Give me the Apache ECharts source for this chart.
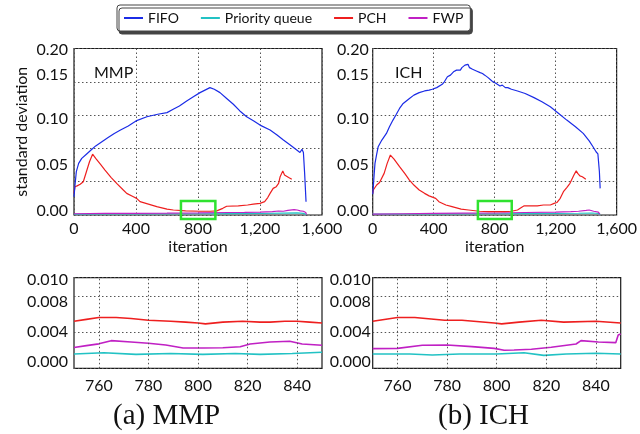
<!DOCTYPE html>
<html>
<head>
<meta charset="utf-8">
<script src="https://cdn.jsdelivr.net/npm/echarts@6/dist/echarts.min.js"></script>
<style>
html,body{margin:0;padding:0;background:#fff}
#chart{width:640px;height:434px}
</style>
</head>
<body>
<div id="chart"></div>
<script>
// ---- data: [iteration, standard deviation] ----
const methodNames = ['FIFO', 'Priority queue', 'PCH', 'FWP'];

const mmpFifo = [[0,0.022],[6,0.035],[15,0.052],[30,0.062],[50,0.068],[80,0.073],[110,0.078],[140,0.083],[180,0.088],[220,0.093],[260,0.098],[300,0.102],[350,0.107],[400,0.113],[470,0.118],[540,0.121],[600,0.123],[640,0.127],[680,0.131],[727,0.137],[770,0.142],[813,0.147],[845,0.150],[877,0.153],[905,0.151],[942,0.147],[985,0.140],[1028,0.133],[1070,0.125],[1114,0.118],[1160,0.113],[1200,0.108],[1265,0.102],[1310,0.096],[1351,0.090],[1395,0.084],[1437,0.078],[1458,0.075],[1471,0.079],[1480,0.075],[1488,0.050],[1497,0.016]];
const mmpQueue = [[0,0.0010],[200,0.0012],[400,0.0014],[800,0.0015],[1000,0.0016],[1200,0.0018],[1350,0.0022],[1440,0.0025],[1480,0.0020],[1500,0.0005]];
const mmpPch = [[0,0.026],[6,0.034],[20,0.035],[40,0.037],[60,0.040],[80,0.052],[100,0.064],[120,0.073],[140,0.068],[170,0.061],[200,0.054],[240,0.045],[280,0.037],[318,0.030],[340,0.026],[383,0.022],[404,0.020],[426,0.016],[480,0.013],[534,0.010],[600,0.007],[641,0.006],[720,0.005],[813,0.0045],[880,0.0045],[921,0.005],[960,0.008],[985,0.0105],[1060,0.011],[1120,0.012],[1157,0.013],[1200,0.014],[1230,0.016],[1250,0.021],[1265,0.026],[1285,0.032],[1305,0.034],[1320,0.038],[1330,0.046],[1347,0.053],[1358,0.048],[1370,0.047],[1385,0.045],[1405,0.043]];
const mmpFwp = [[0,0.0015],[200,0.0020],[400,0.0020],[600,0.0022],[800,0.0025],[1000,0.0030],[1100,0.0032],[1200,0.0035],[1280,0.0040],[1320,0.0048],[1350,0.0045],[1380,0.0055],[1420,0.0065],[1440,0.0060],[1460,0.0050],[1480,0.0045],[1495,0.0030],[1500,0.0005]];

const ichFifo = [[0,0.025],[4,0.034],[10,0.050],[15,0.062],[25,0.072],[36,0.082],[60,0.090],[90,0.098],[110,0.106],[133,0.114],[155,0.121],[176,0.128],[200,0.134],[241,0.140],[270,0.144],[305,0.147],[340,0.149],[370,0.150],[391,0.151],[420,0.153],[456,0.157],[470,0.160],[480,0.162],[490,0.166],[499,0.167],[510,0.168],[520,0.170],[530,0.172],[540,0.171],[550,0.174],[563,0.175],[575,0.174],[585,0.177],[595,0.176],[605,0.180],[612,0.182],[617,0.180],[625,0.181],[635,0.177],[645,0.178],[655,0.175],[665,0.176],[680,0.173],[692,0.174],[705,0.171],[720,0.170],[735,0.168],[745,0.169],[757,0.165],[770,0.164],[782,0.161],[795,0.162],[810,0.158],[821,0.159],[835,0.155],[850,0.156],[870,0.153],[886,0.153],[910,0.151],[950,0.149],[1000,0.146],[1058,0.141],[1110,0.136],[1165,0.130],[1220,0.122],[1273,0.114],[1330,0.106],[1381,0.098],[1420,0.089],[1445,0.082],[1465,0.076],[1477,0.0735],[1482,0.073],[1487,0.052],[1492,0.032]];
const ichQueue = [[0,0.0010],[200,0.0012],[400,0.0014],[800,0.0015],[1000,0.0016],[1200,0.0018],[1350,0.0021],[1440,0.0024],[1480,0.0018],[1492,0.0005]];
const ichPch = [[0,0.026],[4,0.030],[15,0.032],[26,0.036],[45,0.039],[58,0.040],[75,0.050],[95,0.062],[116,0.072],[140,0.067],[176,0.058],[210,0.050],[241,0.042],[270,0.036],[305,0.030],[340,0.026],[370,0.023],[413,0.020],[434,0.016],[480,0.012],[520,0.010],[580,0.007],[628,0.006],[700,0.0045],[760,0.004],[820,0.004],[865,0.004],[910,0.0045],[950,0.006],[975,0.009],[994,0.011],[1040,0.011],[1080,0.011],[1120,0.012],[1165,0.012],[1190,0.014],[1208,0.015],[1230,0.020],[1251,0.028],[1273,0.033],[1294,0.038],[1305,0.040],[1320,0.048],[1335,0.053],[1345,0.050],[1359,0.047],[1375,0.046],[1385,0.044],[1398,0.043]];
const ichFwp = [[0,0.0010],[200,0.0015],[400,0.0020],[600,0.0022],[800,0.0024],[1000,0.0030],[1200,0.0035],[1300,0.0040],[1350,0.0045],[1400,0.0055],[1420,0.0060],[1450,0.0045],[1480,0.0035],[1490,0.0010]];

// close-up of iterations 750-850
const mmpQueueZoom = [[750,0.00158],[762,0.00172],[775,0.00154],[789,0.00163],[802,0.00154],[815,0.00163],[825,0.00154],[838,0.00163],[850,0.00177]];
const mmpPchZoom = [[750,0.0052],[755,0.0054],[760,0.0056],[767,0.0056],[773,0.0055],[780,0.0053],[789,0.0052],[795,0.0051],[800,0.0050],[803,0.0049],[810,0.0051],[818,0.0052],[825,0.0051],[829,0.0051],[835,0.0052],[840,0.0052],[845,0.0051],[850,0.0050]];
const mmpFwpZoom = [[750,0.0023],[755,0.0025],[760,0.0027],[765,0.00305],[773,0.0029],[780,0.00276],[787,0.00257],[794,0.00224],[802,0.00224],[810,0.00227],[817,0.00238],[821,0.00268],[829,0.0029],[837,0.00298],[842,0.00268],[850,0.00254]];
const ichQueueZoom = [[750,0.00158],[765,0.00158],[774,0.00147],[785,0.00158],[800,0.00158],[811,0.00172],[819,0.00143],[828,0.00158],[840,0.00166],[850,0.00158]];
const ichPchZoom = [[750,0.0052],[760,0.0056],[767,0.0056],[779,0.0053],[786,0.0053],[799,0.0050],[802,0.0049],[809,0.0051],[818,0.0053],[827,0.0051],[840,0.0052],[850,0.0050]];
const ichFwpZoom = [[750,0.00217],[760,0.0022],[770,0.00254],[780,0.00257],[790,0.00239],[799,0.0022],[803,0.0020],[807,0.00202],[814,0.0021],[822,0.00232],[832,0.00268],[834,0.00305],[841,0.0029],[848,0.00283],[849,0.00368],[850,0.00379]];

// tick labels
const overviewYLabels = ['0.00', '0.05', '0.10', '0.15', '0.20'];
const closeupYLabels = ['0.000', '0.004', '0.008', '0.010'];
const closeupXTicks = [760, 780, 800, 820, 840];

// highlighted window (iterations / value range)
const windowIter = [690, 912];
const windowVal = [-0.0048, 0.0168];

// ---- layout & style ----
const overviewLabelAt = [0.0054, 0.0602, 0.1151, 0.1683, 0.1988];
const closeupLabelAt = [0.00066, 0.00404, 0.00736, 0.00975];
const colors = {'FIFO': '#1b2ce6', 'Priority queue': '#22c2c4', 'PCH': '#ee1f1f', 'FWP': '#c020c4'};
const FONT = 'Lato';
const INK = '#111';
const gridLine = {show: true, lineStyle: {color: '#555', width: 1, type: [1.5, 2.5]}};

function nearestLabel(v, at, labels) {
  let best = 0;
  for (let i = 1; i < at.length; i++) if (Math.abs(at[i] - v) < Math.abs(at[best] - v)) best = i;
  return labels[best];
}

const gridBox = {show: true, borderColor: '#1a1a1a', borderWidth: 1.2, backgroundColor: '#fff'};
const grids = [
  Object.assign({left: 74, top: 48.5, width: 248, height: 166.5}, gridBox),
  Object.assign({left: 372.7, top: 48.5, width: 248, height: 166.5}, gridBox),
  Object.assign({left: 74, top: 277.7, width: 248, height: 90.6}, gridBox),
  Object.assign({left: 372.7, top: 277.7, width: 248, height: 90.6}, gridBox)
];

function overviewX(g) {
  return {
    gridIndex: g, type: 'value', min: 0, max: 1600, interval: 400,
    axisLine: {show: false}, axisTick: {show: false}, splitLine: gridLine,
    axisLabel: {fontFamily: FONT, fontSize: 16, color: INK, margin: 6,
      formatter: v => v.toLocaleString('en-US')},
    name: 'iteration', nameLocation: 'middle', nameGap: 24,
    nameTextStyle: {fontFamily: FONT, fontSize: 16, color: INK}
  };
}
function overviewY(g, named) {
  return {
    gridIndex: g, type: 'value', min: 0, max: 0.2, interval: 0.04,
    axisLine: {show: false}, axisTick: {show: false}, splitLine: gridLine,
    axisLabel: {fontFamily: FONT, fontSize: 16, color: INK, margin: g === 0 ? 6 : 4,
      customValues: overviewLabelAt,
      formatter: v => nearestLabel(v, overviewLabelAt, overviewYLabels)},
    name: named ? 'standard deviation' : '', nameLocation: 'middle', nameGap: 44,
    nameTextStyle: {fontFamily: FONT, fontSize: 16, color: INK}
  };
}
function closeupX(g) {
  return {
    gridIndex: g, type: 'value', min: 750, max: 850, interval: 10,
    axisLine: {show: false}, axisTick: {show: false}, splitLine: {show: false},
    axisLabel: {fontFamily: FONT, fontSize: 16, color: INK, margin: 10,
      customValues: closeupXTicks, formatter: v => String(v)}
  };
}
function closeupY(g) {
  return {
    gridIndex: g, type: 'value', min: 0, max: 0.01, interval: 0.004,
    axisLine: {show: false}, axisTick: {show: false}, splitLine: gridLine,
    axisLabel: {fontFamily: FONT, fontSize: 16, color: INK, margin: g === 2 ? 6 : 2,
      customValues: closeupLabelAt,
      formatter: v => nearestLabel(v, closeupLabelAt, closeupYLabels)}
  };
}

function line(name, data, g, width) {
  return {
    name, type: 'line', data, xAxisIndex: g, yAxisIndex: g,
    symbol: 'none', smooth: false, z: 3,
    lineStyle: {color: colors[name], width: width}, itemStyle: {color: colors[name]}
  };
}
// dotted vertical guides for the close-up panels
function closeupGuides(g) {
  return {
    type: 'line', data: [], xAxisIndex: g, yAxisIndex: g, silent: true, z: 1,
    markLine: {silent: true, symbol: 'none', label: {show: false},
      lineStyle: gridLine.lineStyle,
      data: closeupXTicks.map(v => ({xAxis: v}))}
  };
}

const series = [
  line('Priority queue', mmpQueue, 0, 1.2), line('FWP', mmpFwp, 0, 1.2), line('PCH', mmpPch, 0, 1.2), line('FIFO', mmpFifo, 0, 1.2),
  line('Priority queue', ichQueue, 1, 1.2), line('FWP', ichFwp, 1, 1.2), line('PCH', ichPch, 1, 1.2), line('FIFO', ichFifo, 1, 1.2),
  closeupGuides(2), line('Priority queue', mmpQueueZoom, 2, 1.6), line('FWP', mmpFwpZoom, 2, 1.6), line('PCH', mmpPchZoom, 2, 1.6),
  closeupGuides(3), line('Priority queue', ichQueueZoom, 3, 1.6), line('FWP', ichFwpZoom, 3, 1.6), line('PCH', ichPchZoom, 3, 1.6)
];

const titleText = {fontFamily: FONT, fontSize: 16, fontWeight: 'normal', color: INK};
const captionText = {fontFamily: 'Liberation Serif', fontSize: 29, fontWeight: 'normal', color: '#111'};

const chart = echarts.init(document.getElementById('chart'), null, {renderer: 'canvas'});
chart.setOption({
  animation: false,
  backgroundColor: '#fff',
  title: [
    {text: 'MMP', left: 94, top: 65, padding: 0, textStyle: titleText},
    {text: 'ICH', left: 395, top: 65, padding: 0, textStyle: titleText},
    {text: '(a) MMP', left: 113, top: 402, padding: 0, textStyle: captionText},
    {text: '(b) ICH', left: 438, top: 402, padding: 0, textStyle: captionText}
  ],
  legend: {
    data: methodNames, left: 117, top: 5, padding: [6, 7],
    icon: 'rect', itemWidth: 19, itemHeight: 2, itemGap: 22,
    textStyle: {fontFamily: FONT, fontSize: 14, color: INK},
    backgroundColor: '#fff', borderColor: '#444', borderWidth: 1, borderRadius: 3,
    shadowColor: '#444', shadowOffsetX: 2, shadowOffsetY: 3, shadowBlur: 0
  },
  grid: grids,
  xAxis: [overviewX(0), overviewX(1), closeupX(2), closeupX(3)],
  yAxis: [overviewY(0, true), overviewY(1, false), closeupY(2), closeupY(3)],
  series
});

// green frame marking the close-up window on each overview panel
const frames = [0, 1].map(g => {
  const a = chart.convertToPixel({gridIndex: g}, [windowIter[0], windowVal[1]]);
  const b = chart.convertToPixel({gridIndex: g}, [windowIter[1], windowVal[0]]);
  return {
    type: 'rect', z: 100, silent: true,
    shape: {x: a[0], y: a[1], width: b[0] - a[0], height: b[1] - a[1]},
    style: {fill: 'none', stroke: '#2fe22f', lineWidth: 2.5}
  };
});
chart.setOption({graphic: frames});
</script>
</body>
</html>
